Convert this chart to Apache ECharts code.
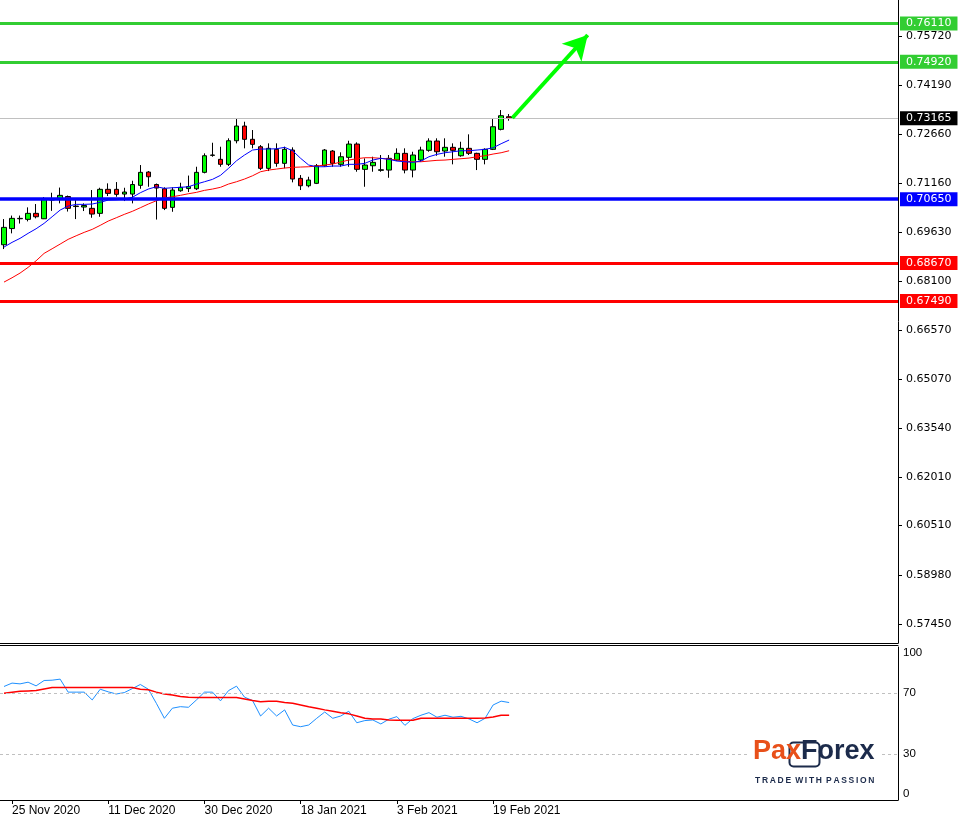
<!DOCTYPE html>
<html>
<head>
<meta charset="utf-8">
<script src="https://cdn.jsdelivr.net/npm/echarts@6/dist/echarts.min.js"></script>
<style>html,body{margin:0;padding:0;background:#fff}#c{width:963px;height:820px}</style>
</head>
<body>
<div id="c"></div>
<script>
// ---- data ----
var dates = ['24 Nov 2020','25 Nov 2020','26 Nov 2020','27 Nov 2020','30 Nov 2020',
 '1 Dec 2020','2 Dec 2020','3 Dec 2020','4 Dec 2020','7 Dec 2020','8 Dec 2020','9 Dec 2020','10 Dec 2020','11 Dec 2020',
 '14 Dec 2020','15 Dec 2020','16 Dec 2020','17 Dec 2020','18 Dec 2020','21 Dec 2020','22 Dec 2020','23 Dec 2020','24 Dec 2020',
 '28 Dec 2020','29 Dec 2020','30 Dec 2020','31 Dec 2020',
 '4 Jan 2021','5 Jan 2021','6 Jan 2021','7 Jan 2021','8 Jan 2021','11 Jan 2021','12 Jan 2021','13 Jan 2021','14 Jan 2021','15 Jan 2021','18 Jan 2021',
 '19 Jan 2021','20 Jan 2021','21 Jan 2021','22 Jan 2021','25 Jan 2021','26 Jan 2021','27 Jan 2021','28 Jan 2021','29 Jan 2021',
 '1 Feb 2021','2 Feb 2021','3 Feb 2021','4 Feb 2021','5 Feb 2021','8 Feb 2021','9 Feb 2021','10 Feb 2021','11 Feb 2021','12 Feb 2021',
 '15 Feb 2021','16 Feb 2021','17 Feb 2021','18 Feb 2021','19 Feb 2021','22 Feb 2021','23 Feb 2021'];
var shownDates = ['25 Nov 2020','11 Dec 2020','30 Dec 2020','18 Jan 2021','3 Feb 2021','19 Feb 2021'];
var futureSlots = 48;

var open  = [0.69234,0.69737,0.70042,0.70023,0.70210,0.70042,0.70639,0.70645,0.70732,0.70421,0.70406,0.70365,0.70210,0.70956,0.70956,0.70809,
 0.70809,0.71080,0.71493,0.71105,0.70974,0.70396,0.70912,0.70980,0.70974,0.71484,0.72012,0.71888,0.71733,0.72466,0.72923,0.72510,
 0.72280,0.71608,0.72199,0.71764,0.72177,0.71297,0.71067,0.71142,0.71689,0.72146,0.71733,0.71950,0.72363,0.71577,0.71689,0.71546,
 0.71555,0.71866,0.72074,0.71555,0.71866,0.72168,0.72457,0.72146,0.72261,0.72000,0.72230,0.72074,0.71888,0.72199,0.72820,0.73212];
var high  = [0.70032,0.70141,0.70141,0.70396,0.70499,0.70716,0.70850,0.71011,0.70763,0.70645,0.70520,0.70934,0.71005,0.71142,0.71182,0.71005,
 0.71223,0.71711,0.71524,0.71136,0.71018,0.71018,0.71161,0.71384,0.71658,0.72074,0.72404,0.72280,0.72541,0.73162,0.73057,0.72799,
 0.72332,0.72385,0.72385,0.72280,0.72261,0.71400,0.71347,0.71742,0.72208,0.72177,0.72106,0.72466,0.72416,0.71919,0.71969,0.72022,
 0.72022,0.72230,0.72230,0.72124,0.72280,0.72541,0.72541,0.72541,0.72385,0.72435,0.72665,0.72093,0.72230,0.73140,0.73420,0.73296];
var low   = [0.69100,0.69588,0.69893,0.69961,0.70054,0.70032,0.70287,0.70520,0.70266,0.70032,0.70281,0.70073,0.70104,0.70747,0.70726,0.70592,
 0.70520,0.70974,0.71036,0.70017,0.70312,0.70259,0.70881,0.70872,0.70934,0.71453,0.71969,0.71658,0.71680,0.72385,0.72230,0.72230,
 0.71555,0.71524,0.71658,0.71608,0.71173,0.70934,0.71018,0.71120,0.71658,0.71658,0.71658,0.71658,0.71503,0.71036,0.71503,0.71503,
 0.71316,0.71835,0.71453,0.71328,0.71813,0.72124,0.72000,0.71969,0.71733,0.71969,0.72022,0.71555,0.71733,0.72177,0.72789,0.73088];
var close = [0.69774,0.70054,0.70054,0.70210,0.70104,0.70639,0.70623,0.70769,0.70365,0.70437,0.70452,0.70188,0.70956,0.70831,0.70800,0.70872,
 0.71105,0.71484,0.71347,0.70996,0.70365,0.70934,0.71018,0.71043,0.71484,0.72000,0.72022,0.71733,0.72466,0.72923,0.72510,0.72354,
 0.71608,0.72230,0.71764,0.72199,0.71276,0.71067,0.71245,0.71689,0.72177,0.71764,0.71969,0.72363,0.71577,0.71711,0.71795,0.71565,
 0.71919,0.72074,0.71555,0.72022,0.72177,0.72457,0.72124,0.72261,0.72168,0.72230,0.72074,0.71888,0.72199,0.72901,0.73243,0.73165];

var maFast = [0.69162,0.69308,0.69433,0.69588,0.69731,0.69899,0.70104,0.70312,0.70437,0.70489,0.70489,0.70499,0.70552,0.70623,0.70632,0.70654,
 0.70707,0.70850,0.70965,0.71036,0.70987,0.71005,0.71018,0.71036,0.71120,0.71192,0.71266,0.71391,0.71608,0.71844,0.72022,0.72177,
 0.72208,0.72208,0.72217,0.72261,0.72155,0.71919,0.71711,0.71658,0.71658,0.71680,0.71680,0.71733,0.71733,0.71764,0.71866,0.71919,
 0.71888,0.71835,0.71813,0.71795,0.71835,0.71969,0.72043,0.72093,0.72124,0.72155,0.72155,0.72177,0.72199,0.72248,0.72373,0.72488];
var maSlow = [0.68074,0.68208,0.68354,0.68531,0.68736,0.68966,0.69109,0.69255,0.69402,0.69513,0.69619,0.69712,0.69837,0.69970,0.70073,0.70178,
 0.70272,0.70384,0.70499,0.70601,0.70685,0.70726,0.70769,0.70819,0.70862,0.70924,0.70965,0.71018,0.71120,0.71192,0.71276,0.71378,
 0.71503,0.71555,0.71586,0.71618,0.71639,0.71649,0.71658,0.71680,0.71711,0.71742,0.71804,0.71866,0.71907,0.71938,0.71938,0.71919,
 0.71897,0.71866,0.71835,0.71813,0.71813,0.71835,0.71857,0.71866,0.71888,0.71907,0.71928,0.71969,0.72000,0.72053,0.72093,0.72155];

var rsi = [74.2,76.4,75.9,77.0,74.6,78.1,78.3,79.0,70.5,70.5,70.5,65.4,72.4,70.7,69.3,70.2,
 72.8,75.5,72.4,63.2,53.4,60.0,61.0,60.6,65.4,70.5,70.5,64.8,71.5,74.4,67.2,65.0,
 54.9,60.0,54.9,58.9,49.0,47.9,49.0,53.4,57.5,53.4,54.9,58.0,50.5,51.9,52.3,49.7,
 52.8,54.5,48.8,53.2,55.4,57.1,54.1,55.4,54.1,54.7,53.0,50.5,53.4,62.1,64.6,63.7];
var rsiSignal = [69.8,70.4,71.0,71.3,71.5,72.5,73.5,73.5,73.5,73.5,73.5,73.5,73.5,73.5,73.5,73.5,
 73.5,72.4,72.1,70.5,69.3,68.6,67.7,67.2,67.0,67.0,67.0,67.0,67.0,67.0,66.0,65.0,
 64.2,64.5,64.5,63.8,63.2,62.1,61.0,60.0,58.9,58.0,57.1,56.3,54.9,53.4,53.0,53.0,
 52.3,52.1,52.1,52.1,53.4,53.4,53.4,53.4,53.4,53.4,53.4,53.4,53.6,54.3,55.4,55.4];

var priceTicks = [0.75720,0.74190,0.72660,0.71160,0.69630,0.68100,0.66570,0.65070,0.63540,0.62010,0.60510,0.58980,0.57450];
var rsiTicks = [0,30,70,100];
var rsiLevels = [70,30];
var greenLevels = [0.76110,0.74920];
var blueLevels = [0.70650];
var redLevels = [0.68670,0.67490];
var lastPrice = 0.73165;
var arrowFrom = [63.4, 0.73172];
var arrowTo = [72.8, 0.75751];
var priceMin = 0.56860, priceMax = 0.76839;

// ---- build ----
var categories = dates.slice();
for (var i = 0; i < futureSlots; i++) categories.push('');
var candleData = open.map(function (o, i) { return [o, close[i], low[i], high[i]]; });
var nCat = categories.length;

function showDate(index, value) { return shownDates.indexOf(value) >= 0; }

function levelLine(v, color, width) {
  return {
    yAxis: v,
    lineStyle: { color: color, width: width, type: 'solid' },
    label: {
      show: true, position: 'end', distance: 2,
      formatter: v.toFixed(5),
      color: '#fff', backgroundColor: color,
      fontFamily: 'DejaVu Sans', fontSize: 11, lineHeight: 12,
      padding: [1, 6, 1, 6]
    }
  };
}
var levelData = [];
greenLevels.forEach(function (v) { levelData.push(levelLine(v, '#32cd32', 3)); });
blueLevels.forEach(function (v) { levelData.push(levelLine(v, '#0000ff', 3.5)); });
redLevels.forEach(function (v) { levelData.push(levelLine(v, '#ff0000', 3)); });
var lp = levelLine(lastPrice, '#000000', 1);
lp.lineStyle.color = '#c0c0c0';
levelData.push(lp);

var chart = echarts.init(document.getElementById('c'), null, { renderer: 'canvas' });
var option = {
  backgroundColor: '#ffffff',
  animation: false,
  grid: [
    { left: 0, top: 0, width: 898, height: 643, outerBoundsMode: 'none' },
    { left: 0, top: 647, width: 898, height: 153, outerBoundsMode: 'none' }
  ],
  xAxis: [
    { type: 'category', gridIndex: 0, data: categories, boundaryGap: true,
      axisLine: { show: true, onZero: false, lineStyle: { color: '#000', width: 1 } },
      axisTick: { show: false }, axisLabel: { show: false }, splitLine: { show: false } },
    { type: 'category', gridIndex: 1, data: categories, boundaryGap: true, position: 'bottom',
      axisLine: { show: true, onZero: false, lineStyle: { color: '#000', width: 1 } },
      axisTick: { show: true, interval: showDate, alignWithLabel: true, length: 4, lineStyle: { color: '#000' } },
      axisLabel: { show: true, interval: showDate, align: 'left', margin: 5, hideOverlap: false,
        color: '#000', fontFamily: 'Liberation Sans', fontSize: 12 },
      splitLine: { show: false } },
    { type: 'value', gridIndex: 0, min: -0.5, max: nCat - 0.5, show: false,
      axisLine: { onZero: false } },
    { type: 'category', gridIndex: 1, data: categories, position: 'top', offset: 2,
      axisLine: { show: true, onZero: false, lineStyle: { color: '#000', width: 1 } },
      axisTick: { show: false }, axisLabel: { show: false }, splitLine: { show: false } }
  ],
  yAxis: [
    { type: 'value', gridIndex: 0, position: 'right', min: priceMin, max: priceMax,
      axisLine: { show: true, onZero: false, lineStyle: { color: '#000', width: 1 } },
      axisTick: { show: true, customValues: priceTicks, length: 4, lineStyle: { color: '#000' } },
      axisLabel: { show: true, customValues: priceTicks, margin: 8, hideOverlap: false,
        formatter: function (v) { return v.toFixed(5); },
        color: '#000', fontFamily: 'DejaVu Sans', fontSize: 11 },
      splitLine: { show: false } },
    { type: 'value', gridIndex: 1, position: 'right', min: 0, max: 100,
      axisLine: { show: true, onZero: false, lineStyle: { color: '#000', width: 1 } },
      axisTick: { show: false },
      axisLabel: { show: true, customValues: rsiTicks, margin: 5, hideOverlap: false,
        verticalAlignMaxLabel: 'top', verticalAlignMinLabel: 'bottom',
        color: '#000', fontFamily: 'Liberation Sans', fontSize: 11.5 },
      splitLine: { show: false } }
  ],
  series: [
    { type: 'candlestick', xAxisIndex: 0, yAxisIndex: 0, data: candleData, barWidth: 5,
      itemStyle: { color: '#00ff00', color0: '#ff0000', borderColor: '#000', borderColor0: '#000',
        borderColorDoji: '#000', borderWidth: 1 } },
    { type: 'line', xAxisIndex: 0, yAxisIndex: 0, data: maSlow, symbol: 'none', silent: true,
      lineStyle: { color: '#ff0000', width: 1 } },
    { type: 'line', xAxisIndex: 0, yAxisIndex: 0, data: maFast, symbol: 'none', silent: true, clip: false,
      lineStyle: { color: '#0000ff', width: 1 },
      markLine: { silent: true, precision: 5, symbol: ['none', 'none'], data: levelData } },
    { type: 'line', xAxisIndex: 2, yAxisIndex: 0, data: [], symbol: 'none', silent: true, clip: false,
      markLine: { silent: true, precision: 5, symbol: ['none', 'arrow'], symbolSize: [20, 24],
        lineStyle: { color: '#00ff00', width: 4, type: 'solid' },
        itemStyle: { color: '#00ff00' },
        label: { show: false },
        data: [[{ coord: arrowFrom }, { coord: arrowTo }]] } },
    { type: 'line', xAxisIndex: 1, yAxisIndex: 1, data: rsi, symbol: 'none', silent: true,
      lineStyle: { color: '#1e90ff', width: 1 },
      markLine: { silent: true, symbol: ['none', 'none'], label: { show: false },
        lineStyle: { color: '#c0c0c0', width: 1, type: [3, 3] },
        data: rsiLevels.map(function (v) { return { yAxis: v }; }) } },
    { type: 'line', xAxisIndex: 1, yAxisIndex: 1, data: rsiSignal, symbol: 'none', silent: true,
      lineStyle: { color: '#ff0000', width: 1.5 } }
  ],
  graphic: [
    { type: 'rect', left: 750, top: 736, shape: { width: 130, height: 54 }, style: { fill: '#ffffff' }, z: 10 },
    { type: 'rect', left: 787, top: 740, shape: { width: 30, height: 24, r: 4 },
      style: { fill: 'none', stroke: '#1c2b4b', lineWidth: 2 }, z: 11 },
    { type: 'text', left: 753, top: 738, z: 12,
      style: { text: '{a|Pa}{b|x}{c|Forex}',
        rich: {
          a: { fontFamily: 'Liberation Sans', fontWeight: 'bold', fontSize: 27, fill: '#e8501a' },
          b: { fontFamily: 'Liberation Sans', fontWeight: 'bold', fontSize: 27, fill: '#e8501a' },
          c: { fontFamily: 'Liberation Sans', fontWeight: 'bold', fontSize: 27, fill: '#1c2b4b' }
        } } },
    { type: 'text', left: 755, top: 776, z: 12,
      style: { text: 'T\u2009R\u2009A\u2009D\u2009E\u2009 W\u2009I\u2009T\u2009H\u2009 P\u2009A\u2009S\u2009S\u2009I\u2009O\u2009N',
        fontFamily: 'Liberation Sans', fontWeight: 'bold', fontSize: 8.5, fill: '#1c2b4b' } }
  ]
};
chart.setOption(option);
</script>
</body>
</html>
